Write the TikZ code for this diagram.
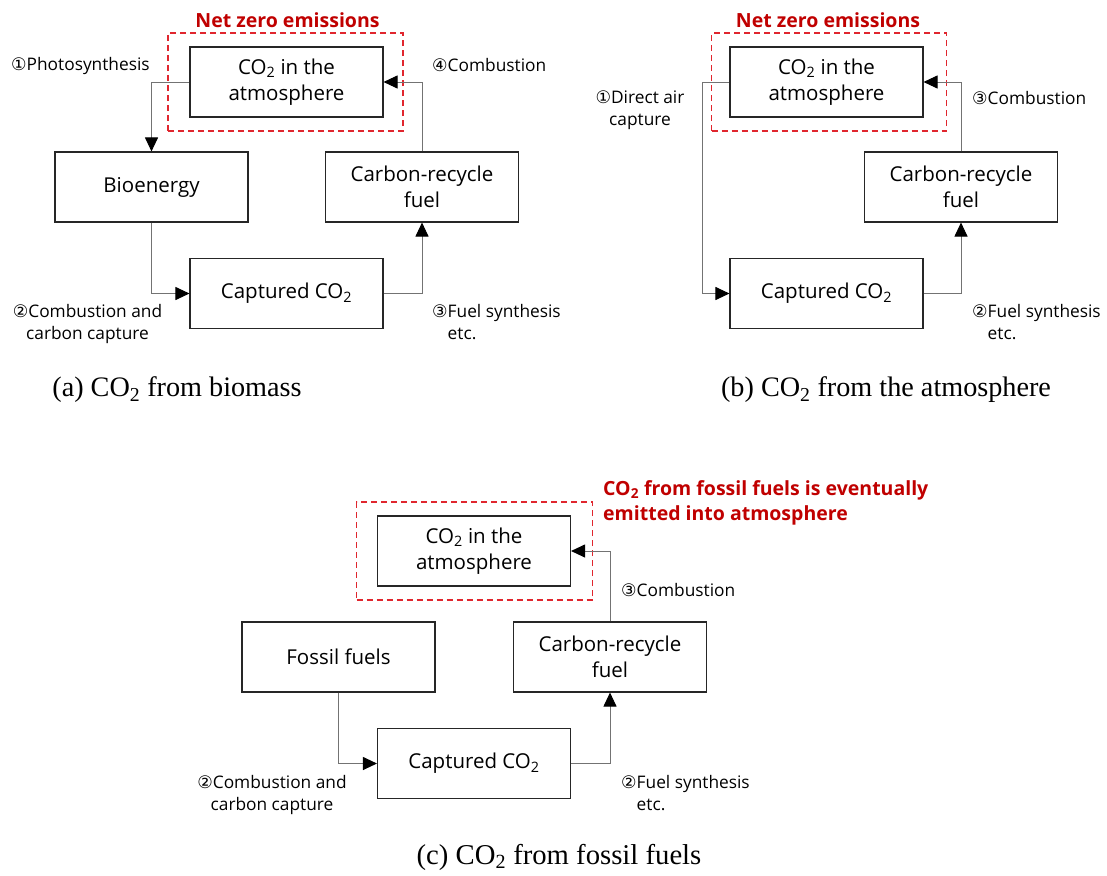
\documentclass[tikz,border=0pt]{standalone}
\usepackage{fontspec}
\setmainfont{Liberation Serif}
\setsansfont{Open Sans}
\newfontfamily\circfont{DejaVu Sans}
\usepackage{xcolor}
\usetikzlibrary{arrows.meta}
\definecolor{netred}{HTML}{C00000}
\definecolor{zonered}{HTML}{E0262E}
\newcommand{\cnum}[1]{{\circfont #1}}

\begin{document}
\begin{tikzpicture}[x=1pt,y=-1pt,
  box/.style={draw=black!85,line width=1.1pt,minimum width=193pt,minimum height=70pt,
    align=center,inner sep=0pt,font=\sffamily\fontsize{20.5}{26}\selectfont},
  zone/.style={draw=zonered,line width=1.5pt,dash pattern=on 6pt off 4pt,
    minimum width=235pt,minimum height=98pt,inner sep=0pt},
  flow/.style={draw=black!55,line width=1pt,-{Triangle[length=14pt,width=13pt,color=black]}},
  lbl/.style={inner sep=0pt,font=\sffamily\fontsize{17.3}{22}\selectfont},
  hot/.style={text=netred,inner sep=0pt,font=\sffamily\bfseries\fontsize{19.5}{25}\selectfont},
  capt/.style={inner sep=0pt,font=\rmfamily\fontsize{28.2}{30}\selectfont}]
  \useasboundingbox (0,0) rectangle (1107,875);

  \node[zone] (zoneA) at (285.5,82) {};
  \node[hot] (netA) at (287.5,20) {Net zero emissions};
  \node[box] (atmA) at (286.5,82) {CO\textsubscript{2} in the\\atmosphere};
  \node[box] (bioA) at (151.5,187) {\raisebox{-2pt}{Bioenergy}};
  \node[box] (fuelA) at (422,187) {Carbon-recycle\\fuel};
  \node[box] (capA) at (286.5,293.5) {\raisebox{-2pt}{Captured CO\textsubscript{2}}};
  \node[lbl,anchor=west] (photoA) at (11,66) {\cnum{①}Photosynthesis};
  \node[lbl,anchor=west] (combA) at (432,65) {\cnum{④}Combustion};
  \node[lbl,align=center] (ccsA) at (87.5,324) {\cnum{②}Combustion and\\carbon capture};
  \node[lbl,anchor=west,align=left] (synA) at (432,322) {\cnum{③}Fuel synthesis\\\hphantom{\cnum{③}}etc.};
  \node[capt] (captA) at (177,390) {(a) CO\textsubscript{2} from biomass};
  \draw[flow] (atmA.west) -| (bioA.north);
  \draw[flow] (bioA.south) |- (capA.west);
  \draw[flow] (capA.east) -| (fuelA.south);
  \draw[flow] (fuelA.north) |- (atmA.east);

  \node[zone] (zoneB) at (829,82) {};
  \node[hot] (netB) at (828,20) {Net zero emissions};
  \node[box] (atmB) at (826.5,82) {CO\textsubscript{2} in the\\atmosphere};
  \node[box] (fuelB) at (961,187) {Carbon-recycle\\fuel};
  \node[box] (capB) at (826.5,293.5) {\raisebox{-2pt}{Captured CO\textsubscript{2}}};
  \node[lbl,align=center] (dacB) at (640,110) {\cnum{①}Direct air\\capture};
  \node[lbl,anchor=west] (combB) at (972,98) {\cnum{③}Combustion};
  \node[lbl,anchor=west,align=left] (synB) at (972,322) {\cnum{②}Fuel synthesis\\\hphantom{\cnum{②}}etc.};
  \node[capt] (captB) at (886,390) {(b) CO\textsubscript{2} from the atmosphere};
  \draw[flow] (atmB.west) -- ++(-27,0) |- (capB.west);
  \draw[flow] (capB.east) -| (fuelB.south);
  \draw[flow] (fuelB.north) |- (atmB.east);

  \node[zone,minimum width=236pt] (zoneC) at (474.5,551) {};
  \node[hot,anchor=west,align=left] (netC) at (603,503) {CO\textsubscript{2} from fossil fuels is eventually\\emitted into atmosphere};
  \node[box] (atmC) at (474,551) {CO\textsubscript{2} in the\\atmosphere};
  \node[box] (fossC) at (338.5,657) {\raisebox{-2pt}{Fossil fuels}};
  \node[box] (fuelC) at (610,657) {Carbon-recycle\\fuel};
  \node[box] (capC) at (474,763.5) {\raisebox{-2pt}{Captured CO\textsubscript{2}}};
  \node[lbl,anchor=west] (combC) at (621,590) {\cnum{③}Combustion};
  \node[lbl,align=center] (ccsC) at (272,795) {\cnum{②}Combustion and\\carbon capture};
  \node[lbl,anchor=west,align=left] (synC) at (621,793) {\cnum{②}Fuel synthesis\\\hphantom{\cnum{②}}etc.};
  \node[capt,font=\rmfamily\fontsize{28.7}{30}\selectfont] (captC) at (559,857) {(c) CO\textsubscript{2} from fossil fuels};
  \draw[flow] (fossC.south) |- (capC.west);
  \draw[flow] (capC.east) -| (fuelC.south);
  \draw[flow] (fuelC.north) |- (atmC.east);
\end{tikzpicture}
\end{document}
